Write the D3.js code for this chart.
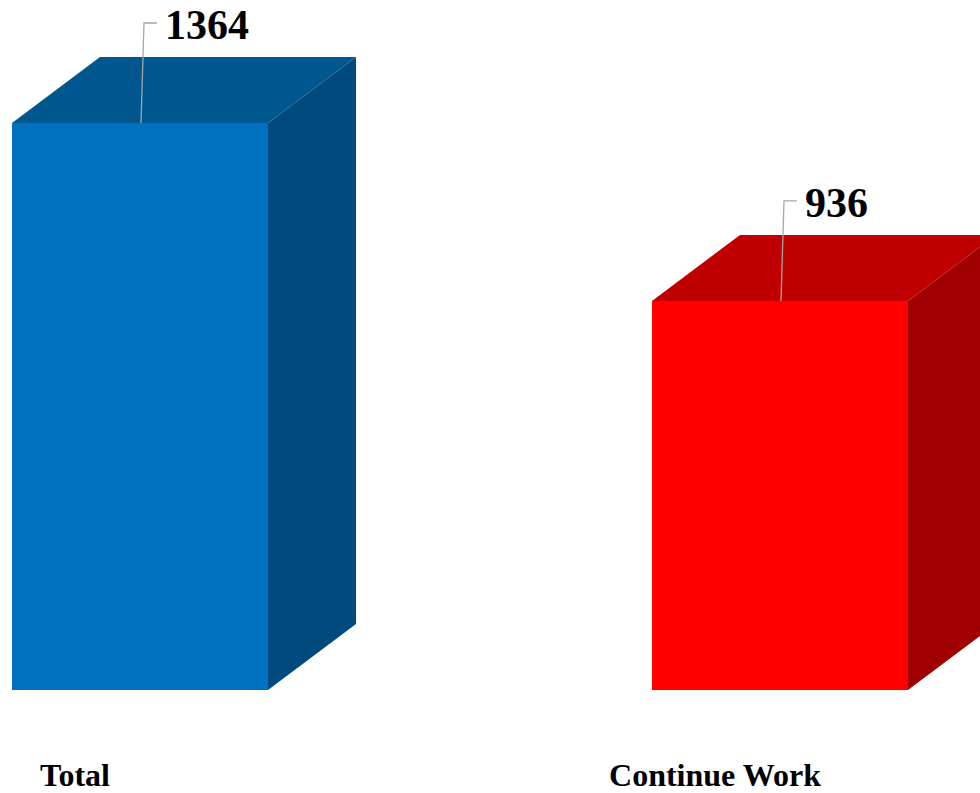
<!DOCTYPE html>
<html>
<head>
<meta charset="utf-8">
<script src="https://cdn.jsdelivr.net/npm/d3@7"></script>
<style>
html,body{margin:0;padding:0;background:#fff;overflow:hidden;}
svg{display:block;}
</style>
</head>
<body>
<svg id="chart" width="980" height="793"></svg>
<script>
const categories = ["Total", "Continue Work"];
const values = [1364, 936];
const frontColors = ["#0070C0", "#FF0000"];
const topColors = ["#00568F", "#C00000"];
const sideColors = ["#004A7E", "#A00000"];

const svg = d3.select("#chart");
const x = d3.scaleBand().domain(categories).range([12, 908]).paddingInner(0.6).paddingOuter(0);
const y = d3.scaleLinear().domain([0, 1364]).range([690, 123]);
const dx = 88, dy = 66;
const bw = x.bandwidth();

const data = categories.map((c, i) => ({c, v: values[i], i}));
const g = svg.selectAll("g.bar").data(data).enter().append("g").attr("class", "bar");

// side face
g.append("path").attr("fill", d => sideColors[d.i]).attr("d", d => {
  const x0 = x(d.c) + bw, yt = y(d.v), yb = y(0);
  return `M${x0},${yt}L${x0+dx},${yt-dy}L${x0+dx},${yb-dy}L${x0},${yb}Z`;
});
// top face
g.append("path").attr("fill", d => topColors[d.i]).attr("d", d => {
  const x0 = x(d.c), yt = y(d.v);
  return `M${x0},${yt}L${x0+dx},${yt-dy}L${x0+bw+dx},${yt-dy}L${x0+bw},${yt}Z`;
});
// front face
g.append("rect").attr("fill", d => frontColors[d.i])
  .attr("x", d => x(d.c)).attr("y", d => y(d.v))
  .attr("width", bw).attr("height", d => y(0) - y(d.v));

// leader lines
g.append("path").attr("fill", "none").attr("stroke", "#A6A6A6").attr("stroke-width", 1.3)
  .attr("d", d => {
    const cx = x(d.c) + bw / 2, yt = y(d.v);
    return `M${cx+1},${yt}L${cx+4},${yt-100}L${cx+17},${yt-100}`;
  });
// value labels
g.append("text")
  .attr("x", d => x(d.c) + bw / 2 + 25)
  .attr("y", d => y(d.v) - 84)
  .attr("font-family", "'Liberation Serif', 'Times New Roman', serif")
  .attr("font-weight", "bold").attr("font-size", 42).attr("fill", "#000")
  .text(d => d.v);

// category labels
g.append("text")
  .attr("x", d => x(d.c) + bw / 2 - 65)
  .attr("y", 786)
  .attr("text-anchor", "middle")
  .attr("font-family", "'Liberation Serif', 'Times New Roman', serif")
  .attr("font-weight", "bold").attr("font-size", 32).attr("fill", "#000")
  .text(d => d.c);
</script>
</body>
</html>
